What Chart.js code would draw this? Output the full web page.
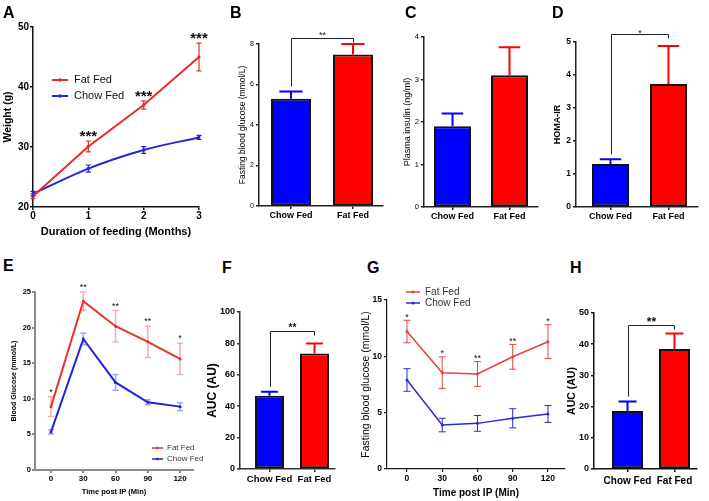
<!DOCTYPE html>
<html>
<head>
<meta charset="utf-8">
<script src="https://cdn.jsdelivr.net/npm/chart.js@4.4.1/dist/chart.umd.min.js"></script>
<style>
  body { margin: 0; background: #fff; }
  #fig { position: relative; width: 709px; height: 501px; overflow: hidden; }
  .tag { position: absolute; font: bold 16px/16px 'Liberation Sans', Arial, sans-serif; color: #000; }
  canvas { position: absolute; }
</style>
</head>
<body>
<div id="fig"></div>
<script>
// values (mean, SEM)
var groups = ['Chow Fed', 'Fat Fed'];

// A - body weight
var months = [0, 1, 2, 3];
var fatWeight = [21.8, 30.1, 37.0, 45.0];
var fatWeightSem = [0.4, 0.9, 0.7, 2.3];
var chowWeight = [22.2, 26.4, 29.5, 31.6];
var chowWeightSem = [0.4, 0.6, 0.55, 0.35];
var weightStars = ['', '***', '***', '***'];
var weightTicks = [20, 30, 40, 50];

// B - fasting blood glucose
var fastGlucose = [5.3, 7.48];
var fastGlucoseSem = [0.36, 0.52];
var glucoseTicks = [0, 2, 4, 6, 8];

// C - plasma insulin
var insulin = [1.9, 3.1];
var insulinSem = [0.3, 0.66];
var insulinTicks = [0, 1, 2, 3, 4];

// D - HOMA-IR
var homa = [1.3, 3.73];
var homaSem = [0.15, 1.15];
var homaTicks = [0, 1, 2, 3, 4, 5];

// E - glucose tolerance
var minutes = [0, 30, 60, 90, 120];
var fatGtt = [8.9, 23.7, 20.2, 18.0, 15.6];
var fatGttSem = [1.4, 1.3, 2.2, 2.2, 2.2];
var chowGtt = [5.35, 18.4, 12.3, 9.5, 8.9];
var chowGttSem = [0.3, 0.8, 1.1, 0.35, 0.55];
var gttStars = ['*', '**', '**', '**', '*'];
var gttTicks = [0, 5, 10, 15, 20, 25];

// F - GTT area under curve
var gttAuc = [46.6, 73.5];
var gttAucSem = [2.6, 6.5];
var gttAucTicks = [0, 20, 40, 60, 80, 100];

// G - insulin tolerance
var fatItt = [12.2, 8.55, 8.43, 9.96, 11.3];
var fatIttSem = [1.0, 1.4, 1.1, 1.1, 1.5];
var chowItt = [7.9, 3.9, 4.05, 4.5, 4.88];
var chowIttSem = [1.0, 0.6, 0.7, 0.85, 0.75];
var ittStars = ['*', '*', '**', '**', '*'];
var ittTicks = [0, 5, 10, 15];

// H - ITT area under curve
var ittAuc = [18.6, 38.5];
var ittAucSem = [3.0, 4.9];
var ittAucTicks = [0, 10, 20, 30, 40, 50];

var SANS = "'Liberation Sans', Arial, sans-serif";
var BLUE = '#0000ff', RED = '#ff0000';
var fig = document.getElementById('fig');

function font(size, bold) {
  return { family: SANS, size: size, weight: bold ? 'bold' : 'normal' };
}

function drawStar(ctx, text, x, yc, size, bold) {
  ctx.save();
  ctx.fillStyle = '#111';
  ctx.font = (bold ? 'bold ' : '') + size + 'px ' + SANS;
  ctx.textAlign = 'center';
  ctx.textBaseline = 'alphabetic';
  ctx.fillText(text, x, yc + 0.58 * size);
  ctx.restore();
}

var errorBars = {
  id: 'errorBars',
  afterDatasetsDraw: function (chart) {
    var ctx = chart.ctx, y = chart.scales.y;
    chart.data.datasets.forEach(function (ds, i) {
      if (!ds.errs) return;
      chart.getDatasetMeta(i).data.forEach(function (el, j) {
        var v = ds.data[j].y, e = ds.errs[j];
        var top = y.getPixelForValue(v + e);
        var bottom = y.getPixelForValue(ds.upOnly ? v : v - e);
        var half = ds.capFrac ? el.width * ds.capFrac / 2 : ds.cap;
        ctx.save();
        ctx.strokeStyle = Array.isArray(ds.errColor) ? ds.errColor[j] : ds.errColor;
        ctx.lineWidth = ds.errWidth;
        ctx.beginPath();
        ctx.moveTo(el.x, bottom);
        ctx.lineTo(el.x, top);
        ctx.moveTo(el.x - half, top);
        ctx.lineTo(el.x + half, top);
        if (!ds.upOnly) {
          ctx.moveTo(el.x - half, bottom);
          ctx.lineTo(el.x + half, bottom);
        }
        ctx.stroke();
        ctx.restore();
      });
    });
  }
};

var stars = {
  id: 'stars',
  afterDatasetsDraw: function (chart, args, o) {
    if (!o.labels) return;
    var ds = chart.data.datasets[o.dataset];
    var meta = chart.getDatasetMeta(o.dataset);
    var y = chart.scales.y;
    o.labels.forEach(function (t, j) {
      if (!t) return;
      var top = y.getPixelForValue(ds.data[j].y + ds.errs[j]);
      drawStar(chart.ctx, t, meta.data[j].x, top - o.gap, o.size, o.bold);
    });
  }
};

var bracket = {
  id: 'bracket',
  afterDatasetsDraw: function (chart, args, o) {
    if (o.y == null) return;
    var ctx = chart.ctx, y = chart.scales.y;
    var ds = chart.data.datasets[0], bars = chart.getDatasetMeta(0).data;
    var yb = Math.round(y.getPixelForValue(o.y)) + 0.5;
    var x0 = Math.round(bars[0].x) + 0.5, x1 = Math.round(bars[1].x) + 0.5;
    var leg = y.getPixelForValue(ds.data[0].y + ds.errs[0]) - 5;
    ctx.save();
    ctx.strokeStyle = '#222';
    ctx.lineWidth = 1;
    ctx.beginPath();
    ctx.moveTo(x0, leg);
    ctx.lineTo(x0, yb);
    ctx.lineTo(x1, yb);
    ctx.lineTo(x1, yb + 4);
    ctx.stroke();
    ctx.restore();
    drawStar(ctx, o.text, (x0 + x1) / 2, yb - o.gap, o.size, o.bold);
  }
};

var keys = {
  id: 'keys',
  afterDraw: function (chart, args, o) {
    if (o.x == null) return;
    var ctx = chart.ctx;
    chart.data.datasets.forEach(function (ds, i) {
      var yy = o.y + i * o.dy;
      ctx.save();
      ctx.strokeStyle = ds.borderColor;
      ctx.lineWidth = o.lw;
      ctx.beginPath();
      ctx.moveTo(o.x, yy);
      ctx.lineTo(o.x + o.len, yy);
      ctx.stroke();
      ctx.fillStyle = ds.borderColor;
      ctx.beginPath();
      ctx.arc(o.x + o.len / 2, yy, o.dot, 0, Math.PI * 2);
      ctx.fill();
      ctx.fillStyle = o.color;
      ctx.font = o.size + 'px ' + SANS;
      ctx.textAlign = 'left';
      ctx.textBaseline = 'middle';
      ctx.fillText(ds.label, o.x + o.len + o.gap, yy);
      ctx.restore();
    });
  }
};

Chart.register(errorBars, stars, bracket, keys);

function tag(text, left, top) {
  var d = document.createElement('div');
  d.className = 'tag';
  d.textContent = text;
  d.style.left = left + 'px';
  d.style.top = top + 'px';
  fig.appendChild(d);
}

function makeCanvas(b) {
  var c = document.createElement('canvas');
  c.width = b[2];
  c.height = b[3];
  c.style.left = b[0] + 'px';
  c.style.top = b[1] + 'px';
  c.style.width = b[2] + 'px';
  c.style.height = b[3] + 'px';
  fig.appendChild(c);
  return c;
}

// fixed axis sizes so the plot areas land where the figure has them
function fixSize(prop, size) {
  return function (s) {
    s[prop] = size;
    s.paddingLeft = s.paddingRight = s.paddingTop = s.paddingBottom = 0;
  };
}

function axis(o) {
  return {
    type: 'linear',
    min: o.min,
    max: o.max,
    offset: false,
    afterFit: fixSize(o.prop, o.size),
    afterBuildTicks: function (s) {
      s.ticks = o.ticks.map(function (v) { return { value: v }; });
    },
    ticks: {
      color: '#000', font: o.font, padding: o.pad, autoSkip: false, maxRotation: 0,
      callback: o.label || function (v) { return v; }
    },
    grid: { offset: false, drawOnChartArea: false, drawTicks: true, tickLength: 3, color: o.color, lineWidth: o.width },
    border: { display: true, color: o.color, width: o.width },
    title: { display: true, text: o.title, color: '#000', font: o.titleFont, padding: o.titlePad }
  };
}

function baseOptions(p) {
  return {
    responsive: false,
    animation: false,
    events: [],
    layout: { padding: { top: p.padTop, right: p.padRight, bottom: 0, left: 0 } },
    plugins: { legend: { display: false }, tooltip: { enabled: false } }
  };
}

function lineSet(label, xs, ys, sem, color, errColor, o) {
  return {
    label: label,
    data: xs.map(function (x, i) { return { x: x, y: ys[i] }; }),
    borderColor: color,
    backgroundColor: color,
    borderWidth: o.lw,
    pointRadius: o.pr,
    pointStyle: o.ps || 'circle',
    pointBorderWidth: 0,
    cubicInterpolationMode: o.curve ? 'monotone' : 'default',
    tension: 0,
    clip: false,
    errs: sem, errColor: errColor, errWidth: o.ew, cap: o.cap
  };
}

function linePanel(p) {
  var opts = baseOptions(p);
  opts.plugins.stars = p.stars;
  opts.plugins.keys = p.keys;
  opts.scales = {
    x: axis({ prop: 'height', size: p.xH, min: p.xMin, max: p.xMax, ticks: p.xTicks, font: p.xFont, pad: p.xPad,
      color: p.axisColor, width: p.axisWidth, title: p.xTitle, titleFont: p.xTitleFont, titlePad: { top: 0, bottom: p.xTitlePad } }),
    y: axis({ prop: 'width', size: p.yW, min: p.yMin, max: p.yMax, ticks: p.yTicks, font: p.yFont, pad: p.yPad,
      color: p.axisColor, width: p.axisWidth, title: p.yTitle, titleFont: p.yTitleFont, titlePad: { top: p.yTitlePad, bottom: 0 } })
  };
  new Chart(makeCanvas(p.box), { type: 'line', data: { datasets: p.datasets }, options: opts });
}

function barPanel(p) {
  var opts = baseOptions(p);
  opts.plugins.bracket = p.bracket || {};
  opts.scales = {
    x: axis({ prop: 'height', size: p.xH, min: p.xMin, max: p.xMax, ticks: [0, 1], font: p.xFont, pad: p.xPad,
      color: p.axisColor, width: p.axisWidth, title: '', titleFont: font(8), titlePad: 0,
      label: function (v) { return groups[v]; } }),
    y: axis({ prop: 'width', size: p.yW, min: p.yMin, max: p.yMax, ticks: p.yTicks, font: p.yFont, pad: p.yPad,
      color: p.axisColor, width: p.axisWidth, title: p.yTitle, titleFont: p.yTitleFont, titlePad: { top: p.yTitlePad, bottom: 0 } })
  };
  opts.scales.x.title.display = false;
  new Chart(makeCanvas(p.box), {
    type: 'bar',
    data: {
      datasets: [{
        data: p.values.map(function (v, i) { return { x: i, y: v }; }),
        backgroundColor: [BLUE, RED],
        borderColor: '#111',
        borderWidth: 2,
        borderSkipped: false,
        barPercentage: p.bar,
        categoryPercentage: 1,
        errs: p.sem, errColor: [BLUE, RED], errWidth: 2, capFrac: 0.58, upOnly: true
      }]
    },
    options: opts
  });
}

// A
linePanel({
  box: [0, 20, 215, 222], padTop: 7, padRight: 16, yW: 33, xH: 35,
  xMin: 0, xMax: 3, xTicks: months, xFont: font(10, true), xPad: 0,
  xTitle: 'Duration of feeding (Months)', xTitleFont: font(11, true), xTitlePad: 3.4,
  yMin: 20, yMax: 50, yTicks: weightTicks, yFont: font(10, true), yPad: 1,
  yTitle: 'Weight (g)', yTitleFont: font(10.5, true), yTitlePad: 2,
  axisColor: '#111', axisWidth: 1.5,
  datasets: [
    lineSet('Fat Fed', months, fatWeight, fatWeightSem, '#ec2a2a', '#ec2a2a', { lw: 2, pr: 2, ps: 'rect', ew: 1.2, cap: 2.5 }),
    lineSet('Chow Fed', months, chowWeight, chowWeightSem, '#2424d8', '#2424d8', { lw: 2, pr: 2, ps: 'rect', ew: 1.2, cap: 2.5, curve: true })
  ],
  stars: { dataset: 0, labels: weightStars, gap: 9, size: 15, bold: true },
  keys: { x: 52, y: 60, dy: 16, len: 16, gap: 6, size: 11, lw: 2, dot: 1.8, color: '#111' }
});

// B
barPanel({
  box: [225, 25, 175, 205], padTop: 19, padRight: 17, yW: 34, xH: 24,
  xMin: -0.516, xMax: 1.484, bar: 0.645, xFont: font(9, true), xPad: 1,
  yMin: 0, yMax: 8, yTicks: glucoseTicks, yFont: font(7), yPad: 2,
  yTitle: 'Fasting blood glucose (mmol/L)', yTitleFont: font(8.5), yTitlePad: 12.9,
  axisColor: '#222', axisWidth: 1.5,
  values: fastGlucose, sem: fastGlucoseSem,
  bracket: { y: 8.3, text: '**', gap: 6, size: 9, bold: false }
});

// C
barPanel({
  box: [400, 25, 150, 205], padTop: 12, padRight: 12, yW: 24, xH: 23,
  xMin: -0.5, xMax: 1.5, bar: 0.65, xFont: font(9, true), xPad: 1,
  yMin: 0, yMax: 4, yTicks: insulinTicks, yFont: font(7.5), yPad: 2,
  yTitle: 'Plasma insulin (ng/ml)', yTitleFont: font(9), yTitlePad: 2.6,
  axisColor: '#222', axisWidth: 1.5,
  values: insulin, sem: insulinSem
});

// D
barPanel({
  box: [550, 25, 159, 205], padTop: 17, padRight: 11, yW: 26, xH: 23,
  xMin: -0.595, xMax: 1.509, bar: 0.638, xFont: font(9, true), xPad: 1,
  yMin: 0, yMax: 5, yTicks: homaTicks, yFont: font(8.5, true), yPad: 2,
  yTitle: 'HOMA-IR', yTitleFont: font(9, true), yTitlePad: 2.6,
  axisColor: '#222', axisWidth: 1.5,
  values: homa, sem: homaSem,
  bracket: { y: 5.24, text: '*', gap: 4, size: 9, bold: false }
});

// E
linePanel({
  box: [0, 280, 205, 221], padTop: 12, padRight: 12, yW: 35, xH: 31,
  xMin: -14.9, xMax: 132, xTicks: minutes, xFont: font(8, true), xPad: 1,
  xTitle: 'Time post IP (Min)', xTitleFont: font(7.5, true), xTitlePad: 4.5,
  yMin: 0, yMax: 25, yTicks: gttTicks, yFont: font(7.5, true), yPad: 1,
  yTitle: 'Blood Glucose (mmol/L)', yTitleFont: font(7, true), yTitlePad: 9.8,
  axisColor: '#8a8a8a', axisWidth: 2,
  datasets: [
    lineSet('Fat Fed', minutes, fatGtt, fatGttSem, '#ee3030', 'rgba(238,48,48,0.4)', { lw: 2, pr: 1.5, ew: 1.5, cap: 3 }),
    lineSet('Chow Fed', minutes, chowGtt, chowGttSem, '#2020e0', 'rgba(32,32,224,0.4)', { lw: 2, pr: 1.5, ew: 1.5, cap: 3 })
  ],
  stars: { dataset: 0, labels: gttStars, gap: 7, size: 9, bold: false },
  keys: { x: 152, y: 168, dy: 11, len: 11, gap: 4, size: 8, lw: 1.5, dot: 1.3, color: '#333' }
});

// F
barPanel({
  box: [205, 285, 140, 216], padTop: 27, padRight: 10, yW: 35, xH: 32,
  xMin: -0.656, xMax: 1.456, bar: 0.644, xFont: font(9.5, true), xPad: 1.3,
  yMin: 0, yMax: 100, yTicks: gttAucTicks, yFont: font(9, true), yPad: 2,
  yTitle: 'AUC (AU)', yTitleFont: font(12, true), yTitlePad: 0,
  axisColor: '#333', axisWidth: 1.5,
  values: gttAuc, sem: gttAucSem,
  bracket: { y: 88, text: '**', gap: 6, size: 10, bold: true }
});

// G
linePanel({
  box: [355, 285, 215, 216], padTop: 15, padRight: 5, yW: 32, xH: 32,
  xMin: -17, xMax: 134.5, xTicks: minutes, xFont: font(8.5, true), xPad: 2,
  xTitle: 'Time post IP (Min)', xTitleFont: font(10, true), xTitlePad: 2,
  yMin: 0, yMax: 15, yTicks: ittTicks, yFont: font(8.5, true), yPad: 2,
  yTitle: 'Fasting blood glucose (mmol/L)', yTitleFont: font(10.5), yTitlePad: 4.7,
  axisColor: '#1a1a1a', axisWidth: 1.2,
  datasets: [
    lineSet('Fat Fed', minutes, fatItt, fatIttSem, '#e8403a', '#e8403a', { lw: 1.5, pr: 1.5, ew: 1, cap: 3.5 }),
    lineSet('Chow Fed', minutes, chowItt, chowIttSem, '#2a2ad0', '#2a2ad0', { lw: 1.5, pr: 1.5, ew: 1, cap: 3.5 })
  ],
  stars: { dataset: 0, labels: ittStars, gap: 6, size: 9, bold: false },
  keys: { x: 51, y: 7, dy: 11, len: 14, gap: 5, size: 10, lw: 1.5, dot: 1.5, color: '#333' }
});

// H
barPanel({
  box: [560, 285, 149, 216], padTop: 28, padRight: 12, yW: 34, xH: 32,
  xMin: -0.713, xMax: 1.479, bar: 0.66, xFont: font(10, true), xPad: 3,
  yMin: 0, yMax: 50, yTicks: ittAucTicks, yFont: font(9, true), yPad: 2,
  yTitle: 'AUC (AU)', yTitleFont: font(10.5, true), yTitlePad: 6,
  axisColor: '#111', axisWidth: 1.5,
  values: ittAuc, sem: ittAucSem,
  bracket: { y: 46.3, text: '**', gap: 6, size: 12, bold: true }
});

tag('A', 3, 5);
tag('B', 230, 5);
tag('C', 405, 5);
tag('D', 552, 5);
tag('E', 3, 258);
tag('F', 222, 260);
tag('G', 367, 260);
tag('H', 570, 260);
</script>
</body>
</html>
